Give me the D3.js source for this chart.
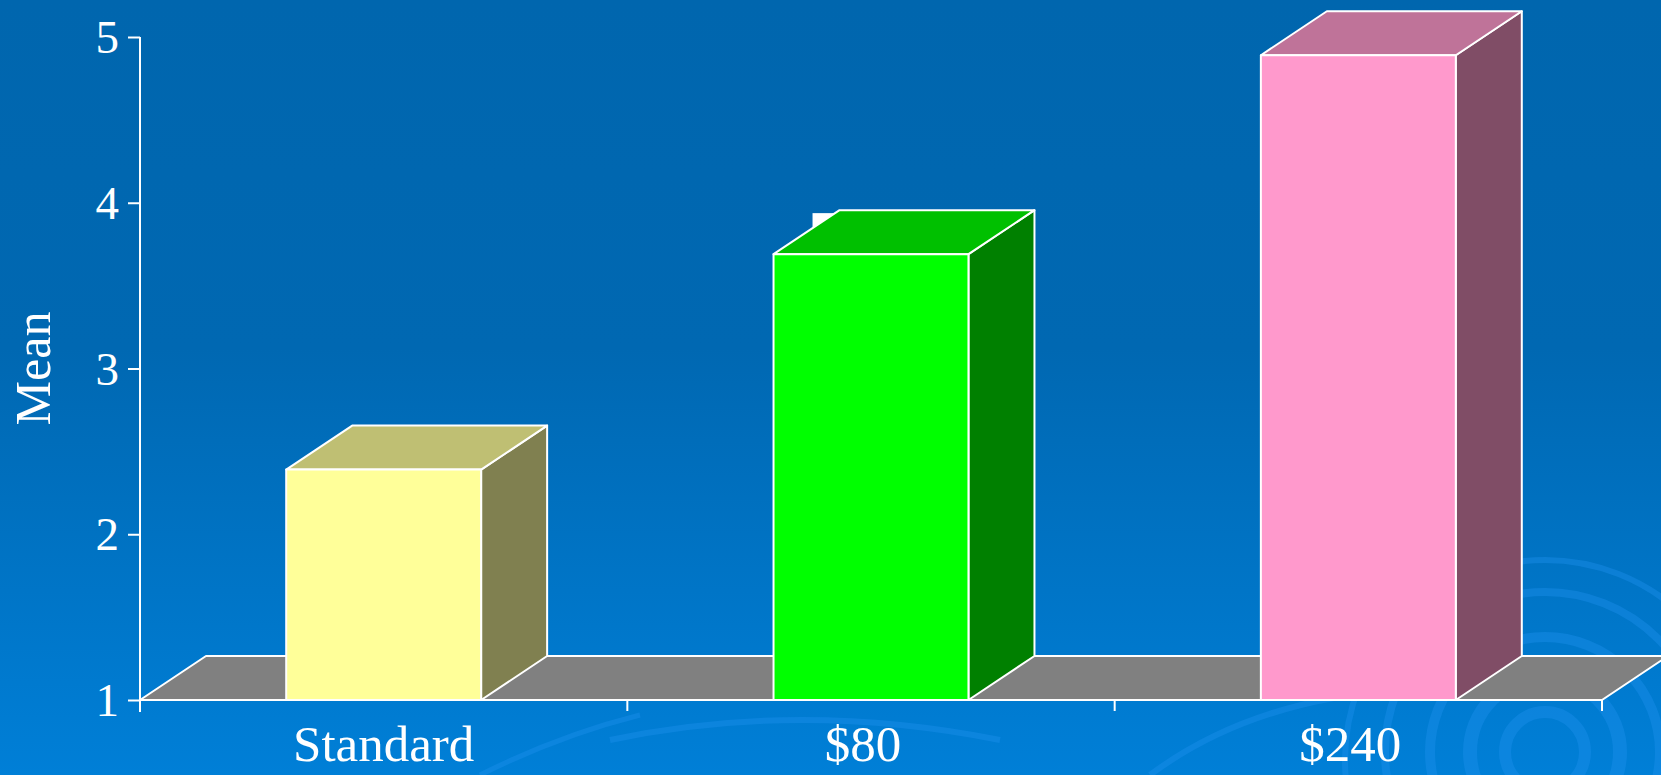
<!DOCTYPE html>
<html>
<head>
<meta charset="utf-8">
<script src="https://cdnjs.cloudflare.com/ajax/libs/d3/7.8.5/d3.min.js"></script>
<style>
  html, body { margin: 0; padding: 0; overflow: hidden; }
  svg { display: block; }
  text { font-family: "Liberation Serif", "Times New Roman", serif; fill: #fff; }
</style>
</head>
<body>
<svg id="chart"></svg>
<script>
// Data
const categories = ["Standard", "$80", "$240"];
const means = [2.39, 3.69, 4.89];
const yTicks = [1, 2, 3, 4, 5];
const frontColors = ["#FFFF99", "#00FF00", "#FF99CC"];
const topColors = ["#BFBF73", "#00C000", "#BF7399"];
const sideColors = ["#808050", "#008000", "#804D66"];

const W = 1661, H = 775;
const margin = {top: 37, right: 59, bottom: 75, left: 140};
const width = W - margin.left - margin.right;
const height = H - margin.top - margin.bottom;
const depth = {dx: 66, dy: -44};

const svg = d3.select("#chart").attr("width", W).attr("height", H);

// Background gradient
const defs = svg.append("defs");
const grad = defs.append("linearGradient")
  .attr("id", "bg").attr("x1", 0).attr("y1", 0).attr("x2", 0).attr("y2", 1);
grad.append("stop").attr("offset", "0%").attr("stop-color", "#0066AE");
grad.append("stop").attr("offset", "45%").attr("stop-color", "#0068B2");
grad.append("stop").attr("offset", "100%").attr("stop-color", "#007FD7");
svg.append("rect").attr("width", W).attr("height", H).attr("fill", "url(#bg)");

// decorative swirls at the bottom
const swirl = svg.append("g").attr("fill", "none").attr("stroke", "#1E90EE").attr("stroke-opacity", 0.4);
[[1545, 752, 40, 12], [1545, 752, 75, 14], [1545, 752, 115, 10], [1545, 752, 160, 8], [1545, 760, 200, 6]]
  .forEach(c => swirl.append("circle").attr("cx", c[0]).attr("cy", c[1]).attr("r", c[2]).attr("stroke-width", c[3]));
swirl.append("path").attr("d", "M610,740 Q800,700 1000,740").attr("stroke-width", 6);
swirl.append("path").attr("d", "M480,775 Q560,735 640,715").attr("stroke-width", 5);
swirl.append("path").attr("d", "M1150,775 Q1250,700 1400,690").attr("stroke-width", 6);

const g = svg.append("g").attr("transform", `translate(${margin.left},${margin.top})`);

// Scales
const y = d3.scaleLinear().domain([1, 5]).range([height, 0]);
const x = d3.scaleBand().domain(categories).range([0, width]).paddingInner(0).paddingOuter(0);
const barW = x.bandwidth() * 0.4;

// Floor
const x0 = x.range()[0], x1 = x.range()[1], y0 = y(1);
g.append("path")
  .attr("d", `M${x0},${y0} L${x0 + depth.dx},${y0 + depth.dy} L${x1 + depth.dx},${y0 + depth.dy} L${x1},${y0} Z`)
  .attr("fill", "#808080").attr("stroke", "#fff").attr("stroke-width", 2).attr("stroke-linejoin", "round");

// small white patch behind the $80 bar
const gx = x("$80") + (x.bandwidth() - barW) / 2;
g.append("rect").attr("x", gx + 39).attr("y", y(means[1]) - 41).attr("width", 26).attr("height", 22).attr("fill", "#fff");

// Bars
const bars = g.selectAll(".bar").data(categories).enter().append("g").attr("class", "bar");
bars.each(function(d, i) {
  const b = d3.select(this);
  const bx = x(d) + (x.bandwidth() - barW) / 2;
  const by = y(means[i]);
  const bb = y(1);
  const st = {stroke: "#fff", "stroke-width": 2, "stroke-linejoin": "round"};
  const side = b.append("path")
    .attr("d", `M${bx + barW},${bb} L${bx + barW + depth.dx},${bb + depth.dy} L${bx + barW + depth.dx},${by + depth.dy} L${bx + barW},${by} Z`)
    .attr("fill", sideColors[i]);
  const top = b.append("path")
    .attr("d", `M${bx},${by} L${bx + depth.dx},${by + depth.dy} L${bx + barW + depth.dx},${by + depth.dy} L${bx + barW},${by} Z`)
    .attr("fill", topColors[i]);
  const front = b.append("rect")
    .attr("x", bx).attr("y", by).attr("width", barW).attr("height", bb - by)
    .attr("fill", frontColors[i]);
  [side, top, front].forEach(s => Object.entries(st).forEach(([k, v]) => s.attr(k, v)));
});

// Y axis
const yAxis = d3.axisLeft(y).tickValues(yTicks).tickFormat(d3.format("d")).tickSize(12).tickSizeOuter(0).tickPadding(9);
const ya = g.append("g").call(yAxis);
ya.select(".domain").attr("stroke", "#fff").attr("stroke-width", 2)
  .attr("d", `M0,0V${height + 12}`);
ya.selectAll(".tick line").attr("stroke", "#fff").attr("stroke-width", 2);
ya.selectAll(".tick text").attr("fill", "#fff").style("font-size", "47px").attr("dy", "0.33em");

// X axis
const xa = g.append("g").attr("transform", `translate(0,${height})`);
xa.append("line").attr("x1", x0).attr("x2", x1).attr("stroke", "#fff").attr("stroke-width", 2);
const bounds = categories.map(c => x(c)).concat([x1]);
xa.selectAll(".xtick").data(bounds).enter().append("line")
  .attr("x1", d => d).attr("x2", d => d).attr("y1", 0).attr("y2", 11)
  .attr("stroke", "#fff").attr("stroke-width", 2);
xa.selectAll(".xlabel").data(categories).enter().append("text")
  .attr("x", d => x(d) + x.bandwidth() / 2 - (d === "Standard" ? 0 : 8))
  .attr("y", 61)
  .attr("text-anchor", "middle")
  .style("font-size", "51px")
  .text(d => d);

// Y label
svg.append("text")
  .attr("transform", `translate(50,${margin.top + height / 2}) rotate(-90)`)
  .attr("text-anchor", "middle")
  .style("font-size", "50px")
  .text("Mean");
</script>
</body>
</html>
